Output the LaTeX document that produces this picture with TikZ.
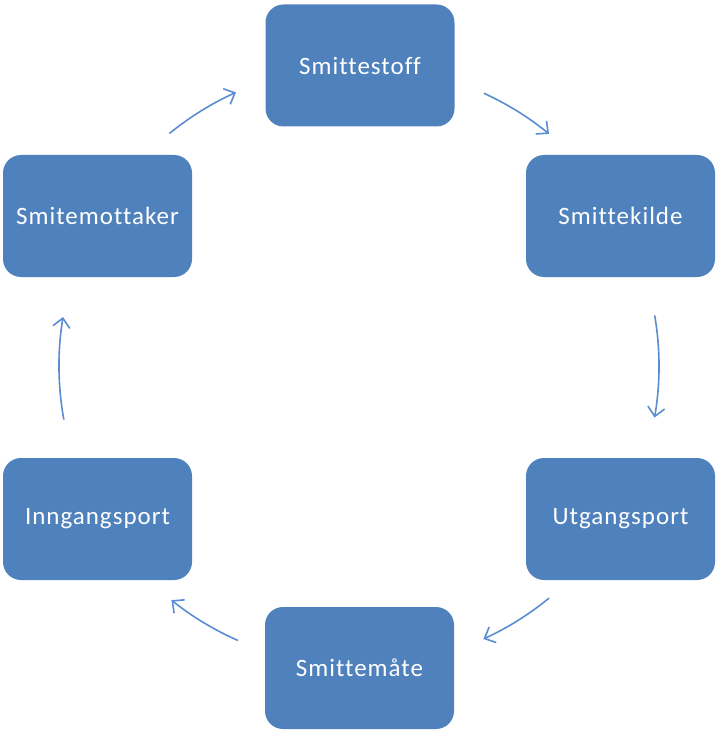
\documentclass[tikz,border=0pt]{standalone}
\usepackage{fontspec}
\setmainfont{Carlito}[Ligatures=NoCommon,LetterSpace=4]
\usetikzlibrary{arrows.meta}
\definecolor{boxblue}{HTML}{4F81BD}
\definecolor{arrblue}{HTML}{5A8CD2}
\begin{document}
\begin{tikzpicture}[x=1pt,y=-1pt,
  box/.style={rectangle,rounded corners=18pt,fill=boxblue,text=white,
    minimum width=189pt,minimum height=122pt,inner sep=0pt,
    font=\fontsize{25}{30}\selectfont},
  arr/.style={arrblue,line width=1.6pt,-{Straight Barb[length=9pt,width=17pt,line width=1.6pt]}}]
\useasboundingbox (0,0) rectangle (715,730);
\node[box] (stoff) at (360,65.5) {Smittestoff};
\node[box] (kilde) at (620.5,216) {Smittekilde};
\node[box] (utgang) at (620.5,519) {Utgangsport};
\node[box] (maate) at (359.5,668) {Smittemåte};
\node[box] (inngang) at (97.5,519) {Inngangsport};
\node[box] (mottaker) at (97.5,216) {Smitemottaker};
\coordinate (c) at (359,366);
% arcs on a circle around c (y axis flipped: angles negated)
\draw[arr] (c) ++(-129.2:300) arc[start angle=-129.2,end angle=-114.2,radius=300];
\draw[arr] (c) ++(-65.4:300) arc[start angle=-65.4,end angle=-50.7,radius=300];
\draw[arr] (c) ++(-9.7:300) arc[start angle=-9.7,end angle=9.9,radius=300];
\draw[arr] (c) ++(50.7:300) arc[start angle=50.7,end angle=65.5,radius=300];
\draw[arr] (c) ++(113.8:300) arc[start angle=113.8,end angle=128.7,radius=300];
\draw[arr] (c) ++(169.7:300) arc[start angle=169.7,end angle=189.4,radius=300];
\end{tikzpicture}
\end{document}
